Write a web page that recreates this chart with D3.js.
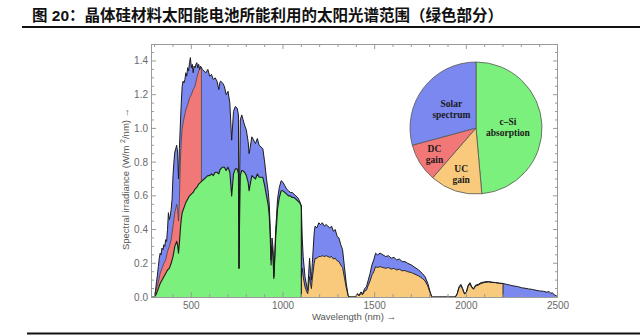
<!DOCTYPE html>
<html>
<head>
<meta charset="utf-8">
<script src="https://cdn.jsdelivr.net/npm/d3@7"></script>
<style>
  html, body { margin: 0; padding: 0; background: #fff; }
  svg { display: block; }
</style>
</head>
<body>
<svg id="chart" width="640" height="335"></svg>
<script>
// Title
const titleText = "图 20：晶体硅材料太阳能电池所能利用的太阳光谱范围（绿色部分）";

// AM1.5 spectral irradiance, [wavelength nm, W/m²/nm]
const solarSpectrum = [
  [280,0],[295,0],[300,0.01],[305,0.04],[310,0.09],[315,0.13],[320,0.18],[325,0.23],[330,0.26],[335,0.25],
  [340,0.29],[345,0.28],[350,0.31],[355,0.30],[360,0.34],[365,0.33],[370,0.40],[375,0.50],[380,0.46],[385,0.48],
  [390,0.52],[395,0.58],[400,0.72],[405,0.80],[410,0.86],[415,0.88],[420,0.90],[425,0.86],[430,0.70],[435,0.88],
  [440,1.02],[445,1.15],[450,1.25],[455,1.28],[460,1.27],[465,1.29],[470,1.33],[475,1.31],[480,1.36],[485,1.34],
  [490,1.39],[495,1.42],[500,1.36],[505,1.38],[510,1.33],[515,1.37],[520,1.36],[525,1.38],[530,1.39],[535,1.36],
  [540,1.38],[545,1.35],[550,1.37],[560,1.35],[570,1.34],[580,1.33],[590,1.35],[600,1.31],[610,1.32],[620,1.29],
  [630,1.30],[640,1.28],[650,1.23],[655,1.27],[660,1.28],[670,1.27],[680,1.25],[690,1.20],[700,1.22],[710,1.15],
  [720,0.93],[730,1.10],[740,1.13],[750,1.12],[757,1.08],[760,0.17],[763,0.65],[767,1.05],[775,1.08],[780,1.06],
  [790,1.02],[800,0.99],[810,0.92],[815,0.85],[820,0.88],[830,0.95],[840,0.93],[850,0.91],[860,0.94],[870,0.90],
  [880,0.89],[890,0.88],[900,0.80],[910,0.70],[920,0.62],[925,0.55],[930,0.42],[935,0.22],[940,0.35],[945,0.30],
  [950,0.12],[955,0.25],[960,0.40],[965,0.48],[970,0.58],[980,0.65],[990,0.69],[1000,0.68],[1010,0.66],[1020,0.64],
  [1030,0.63],[1040,0.62],[1050,0.62],[1060,0.61],[1070,0.60],[1080,0.59],[1090,0.57],[1100,0.54],[1105,0.35],[1110,0.24],
  [1120,0.12],[1130,0.06],[1135,0.04],[1140,0.14],[1145,0.23],[1150,0.15],[1155,0.10],[1160,0.20],[1170,0.38],[1175,0.42],
  [1185,0.41],[1195,0.44],[1205,0.43],[1215,0.44],[1225,0.42],[1235,0.43],[1245,0.42],[1255,0.41],[1265,0.42],[1275,0.39],
  [1285,0.40],[1295,0.36],[1305,0.35],[1315,0.31],[1325,0.28],[1335,0.18],[1345,0.08],[1355,0.01],[1360,0],[1395,0],
  [1405,0.02],[1415,0.01],[1425,0.03],[1435,0.02],[1445,0.05],[1455,0.06],[1465,0.10],[1475,0.14],[1485,0.19],[1495,0.22],
  [1505,0.26],[1515,0.25],[1530,0.26],[1545,0.25],[1560,0.24],[1575,0.245],[1590,0.23],[1605,0.235],[1620,0.22],[1635,0.225],
  [1650,0.21],[1665,0.21],[1680,0.20],[1700,0.19],[1720,0.175],[1740,0.16],[1760,0.14],[1775,0.12],[1790,0.08],[1800,0.04],
  [1810,0.005],[1815,0],[1940,0],[1950,0.02],[1960,0.06],[1970,0.075],[1980,0.05],[1990,0.02],[2000,0.03],[2010,0.07],
  [2020,0.085],[2030,0.06],[2040,0.05],[2050,0.07],[2065,0.075],[2080,0.085],[2100,0.09],[2120,0.092],[2140,0.088],[2160,0.086],
  [2180,0.082],[2200,0.08],[2220,0.075],[2240,0.07],[2260,0.065],[2280,0.062],[2300,0.055],[2320,0.052],[2340,0.048],[2360,0.045],
  [2380,0.04],[2400,0.036],[2420,0.034],[2440,0.028],[2450,0.034],[2460,0.022],[2470,0.025],[2480,0.012],[2490,0.008],[2500,0]
];

// Portion absorbed by crystalline silicon
const siAbsorption = [
  [300,0],[310,0.02],[320,0.05],[330,0.08],[340,0.10],[350,0.12],[360,0.14],[370,0.16],[380,0.17],[390,0.20],
  [400,0.24],[410,0.30],[420,0.33],[425,0.31],[430,0.26],[435,0.32],[440,0.40],[445,0.46],[450,0.50],[460,0.53],
  [470,0.56],[480,0.58],[490,0.60],[500,0.61],[510,0.62],[520,0.64],[530,0.65],[540,0.67],[550,0.68],[560,0.69],
  [570,0.70],[580,0.71],[590,0.72],[600,0.72],[610,0.73],[620,0.72],[630,0.74],[640,0.74],[650,0.73],[655,0.75],
  [660,0.76],[670,0.77],[680,0.77],[690,0.75],[700,0.77],[710,0.74],[720,0.60],[730,0.73],[740,0.76],[750,0.76],
  [757,0.73],[760,0.17],[763,0.45],[767,0.72],[775,0.75],[780,0.75],[790,0.74],[800,0.72],[810,0.68],[815,0.63],
  [820,0.66],[830,0.72],[840,0.71],[850,0.70],[860,0.73],[870,0.71],[880,0.71],[890,0.71],[900,0.66],[910,0.60],
  [920,0.54],[925,0.48],[930,0.37],[935,0.19],[940,0.30],[945,0.26],[950,0.11],[955,0.22],[960,0.35],[965,0.43],
  [970,0.52],[980,0.59],[990,0.63],[1000,0.63],[1010,0.62],[1020,0.61],[1030,0.60],[1040,0.60],[1050,0.59],[1060,0.59],
  [1070,0.58],[1080,0.57],[1090,0.56],[1100,0.54]
];

// Down-conversion gain (upper edge)
const dcGain = [
  [300,0],[310,0.05],[320,0.09],[330,0.14],[340,0.17],[350,0.20],[360,0.22],[370,0.27],[380,0.30],[390,0.34],
  [400,0.42],[410,0.50],[420,0.55],[425,0.52],[430,0.45],[435,0.58],[440,0.80],[445,0.92],[450,1.00],[460,1.06],
  [470,1.11],[480,1.14],[490,1.18],[500,1.20],[510,1.23],[520,1.25],[530,1.30],[540,1.34],[550,1.36],[555,1.36]
];

// Up-conversion gain (upper edge)
const ucGain = [
  [1100,0.12],[1105,0.17],[1110,0.12],[1120,0.06],[1130,0.03],[1135,0.02],[1140,0.07],[1145,0.12],[1150,0.08],[1155,0.05],
  [1160,0.11],[1170,0.20],[1175,0.23],[1185,0.23],[1195,0.24],[1205,0.24],[1215,0.245],[1225,0.24],[1235,0.245],[1245,0.24],
  [1255,0.235],[1265,0.24],[1275,0.225],[1285,0.23],[1295,0.215],[1305,0.21],[1315,0.19],[1325,0.175],[1335,0.115],[1345,0.055],
  [1355,0.01],[1360,0],[1395,0],[1405,0.015],[1415,0.007],[1425,0.02],[1435,0.015],[1445,0.035],[1455,0.04],[1465,0.07],
  [1475,0.095],[1485,0.13],[1495,0.15],[1505,0.18],[1515,0.175],[1530,0.18],[1545,0.175],[1560,0.17],[1575,0.175],[1590,0.165],
  [1605,0.17],[1620,0.16],[1635,0.165],[1650,0.155],[1665,0.157],[1680,0.15],[1700,0.145],[1720,0.135],[1740,0.125],[1760,0.11],
  [1775,0.095],[1790,0.065],[1800,0.033],[1810,0.004],[1815,0],[1940,0],[1950,0.018],[1960,0.054],[1970,0.068],[1980,0.045],
  [1990,0.018],[2000,0.027],[2010,0.064],[2020,0.078],[2030,0.055],[2040,0.046],[2050,0.065],[2065,0.07],[2080,0.08],[2100,0.086],
  [2120,0.089],[2140,0.086],[2160,0.085],[2180,0.081],[2200,0.08]
];

// Energy share shown in the inset pie (percent)
const pieLabels = [["c–Si", "absorption"], ["UC", "gain"], ["DC", "gain"], ["Solar", "spectrum"]];
const pieValues = [48.6, 12.8, 9.4, 29.2];

const xTicks = [500, 1000, 1500, 2000, 2500];
const yTicks = [0, 0.2, 0.4, 0.6, 0.8, 1.0, 1.2, 1.4];

(function () {
  const COLORS = { blue: "#7b88f0", red: "#f27878", green: "#7cf07c", orange: "#f9ca7c" };
  const pieColors = [COLORS.green, COLORS.orange, COLORS.red, COLORS.blue];

  const svg = d3.select("#chart");

  // Title and rules
  svg.append("text")
    .attr("x", 32).attr("y", 20.5)
    .attr("font-family", "'Liberation Sans', 'Noto Sans CJK SC', sans-serif")
    .attr("font-weight", "bold").attr("font-size", 15.5).attr("fill", "#111")
    .text(titleText);
  svg.append("line").attr("x1", 22).attr("x2", 640).attr("y1", 27).attr("y2", 27)
    .attr("stroke", "#111").attr("stroke-width", 2);
  svg.append("line").attr("x1", 27).attr("x2", 640).attr("y1", 333.5).attr("y2", 333.5)
    .attr("stroke", "#111").attr("stroke-width", 2);

  // Plot area
  const pLeft = 151, pRight = 558, pTop = 44, pBottom = 297;
  const x = d3.scaleLinear().domain([280, 2500]).range([pLeft, pRight]);
  const y = d3.scaleLinear().domain([0, 1.5]).range([pBottom, pBottom - 1.5 * 168.6]);

  const area = d3.area().x(d => x(d[0])).y0(y(0)).y1(d => y(d[1]));
  const line = d3.line().x(d => x(d[0])).y(d => y(d[1]));

  const withDrop = s => s.concat([[s[s.length - 1][0], 0]]);
  const plot = svg.append("g");
  const outline = (s, w, c) => plot.append("path").datum(s).attr("d", line)
    .attr("fill", "none").attr("stroke", c || "#1c1c1c").attr("stroke-width", w)
    .attr("stroke-linejoin", "round");

  plot.append("path").datum(solarSpectrum).attr("d", area).attr("fill", COLORS.blue);
  plot.append("path").datum(dcGain).attr("d", area).attr("fill", COLORS.red);
  plot.append("path").datum(ucGain).attr("d", area).attr("fill", COLORS.orange);
  // The DC edge runs down to the baseline; the green band then covers its lower part
  outline(withDrop(dcGain), 0.8, "#444");
  plot.append("path").datum(siAbsorption).attr("d", area).attr("fill", COLORS.green);
  outline(withDrop(ucGain), 0.9);
  outline(withDrop(siAbsorption), 1.1);
  outline(solarSpectrum, 1.0);

  // Frame with inward ticks on all four sides
  const frame = svg.append("g").attr("stroke", "#9a9a9a").attr("fill", "none");
  frame.append("rect").attr("x", pLeft + 0.5).attr("y", pTop + 0.5)
    .attr("width", pRight - pLeft - 1).attr("height", pBottom - pTop).attr("stroke-width", 1);

  const xMinor = d3.range(300, 2500, 100);
  const yMinor = d3.range(0, 30).map(i => i * 0.05);
  xMinor.forEach(v => {
    const len = v % 500 === 0 ? 5 : 3;
    frame.append("line").attr("x1", x(v)).attr("x2", x(v)).attr("y1", pBottom).attr("y2", pBottom - len);
    frame.append("line").attr("x1", x(v)).attr("x2", x(v)).attr("y1", pTop).attr("y2", pTop + len);
  });
  yMinor.forEach((v, i) => {
    const len = i % 4 === 0 ? 5 : 3;
    frame.append("line").attr("x1", pLeft).attr("x2", pLeft + len).attr("y1", y(v)).attr("y2", y(v));
    frame.append("line").attr("x1", pRight).attr("x2", pRight - len).attr("y1", y(v)).attr("y2", y(v));
  });

  const tickFont = "'Liberation Sans', Arial, sans-serif";
  svg.append("g").selectAll("text").data(xTicks).join("text")
    .attr("x", d => x(d)).attr("y", 308.5).attr("text-anchor", "middle")
    .attr("font-family", tickFont).attr("font-size", 10).attr("fill", "#6a6a6a")
    .text(d => d);
  svg.append("g").selectAll("text").data(yTicks).join("text")
    .attr("x", 148).attr("y", d => y(d) + 3.5).attr("text-anchor", "end")
    .attr("font-family", tickFont).attr("font-size", 10).attr("fill", "#6a6a6a")
    .text(d => d.toFixed(1));

  // Axis titles
  svg.append("text").attr("x", 354).attr("y", 320).attr("text-anchor", "middle")
    .attr("font-family", tickFont).attr("font-size", 9.5).attr("fill", "#555")
    .text("Wavelength (nm) →");
  const yTitle = svg.append("text")
    .attr("transform", "translate(129,179) rotate(-90)").attr("text-anchor", "middle")
    .attr("font-family", tickFont).attr("font-size", 9.5).attr("fill", "#555");
  yTitle.append("tspan").text("Spectral irradiance (W/m ");
  yTitle.append("tspan").attr("font-size", 7).attr("dy", -4).text("2");
  yTitle.append("tspan").attr("dy", 4).text("/nm) →");

  // Inset pie of energy shares
  const cx = 476, cy = 128, R = 66;
  const pie = d3.pie().sort(null).startAngle(0).endAngle(2 * Math.PI);
  const arcs = pie(pieValues);
  const arc = d3.arc().innerRadius(0).outerRadius(R);
  const pg = svg.append("g").attr("transform", `translate(${cx},${cy})`);
  pg.selectAll("path").data(arcs).join("path")
    .attr("d", arc).attr("fill", (d, i) => pieColors[i])
    .attr("stroke", "#555").attr("stroke-width", 0.8);

  const labelRadius = [32, 48, 49, 31];
  pg.selectAll("text").data(arcs).join("text")
    .attr("transform", (d, i) => {
      const a = (d.startAngle + d.endAngle) / 2;
      const r = labelRadius[i];
      return `translate(${r * Math.sin(a)},${-r * Math.cos(a)})`;
    })
    .attr("text-anchor", "middle")
    .attr("font-family", "'Liberation Serif', 'Times New Roman', serif")
    .attr("font-weight", "bold").attr("font-size", 9.5).attr("fill", "#1a1a1a")
    .each(function (d, i) {
      const t = d3.select(this);
      t.append("tspan").attr("x", 0).attr("y", -2).text(pieLabels[i][0]);
      t.append("tspan").attr("x", 0).attr("y", 9).text(pieLabels[i][1]);
    });
})();
</script>
</body>
</html>
